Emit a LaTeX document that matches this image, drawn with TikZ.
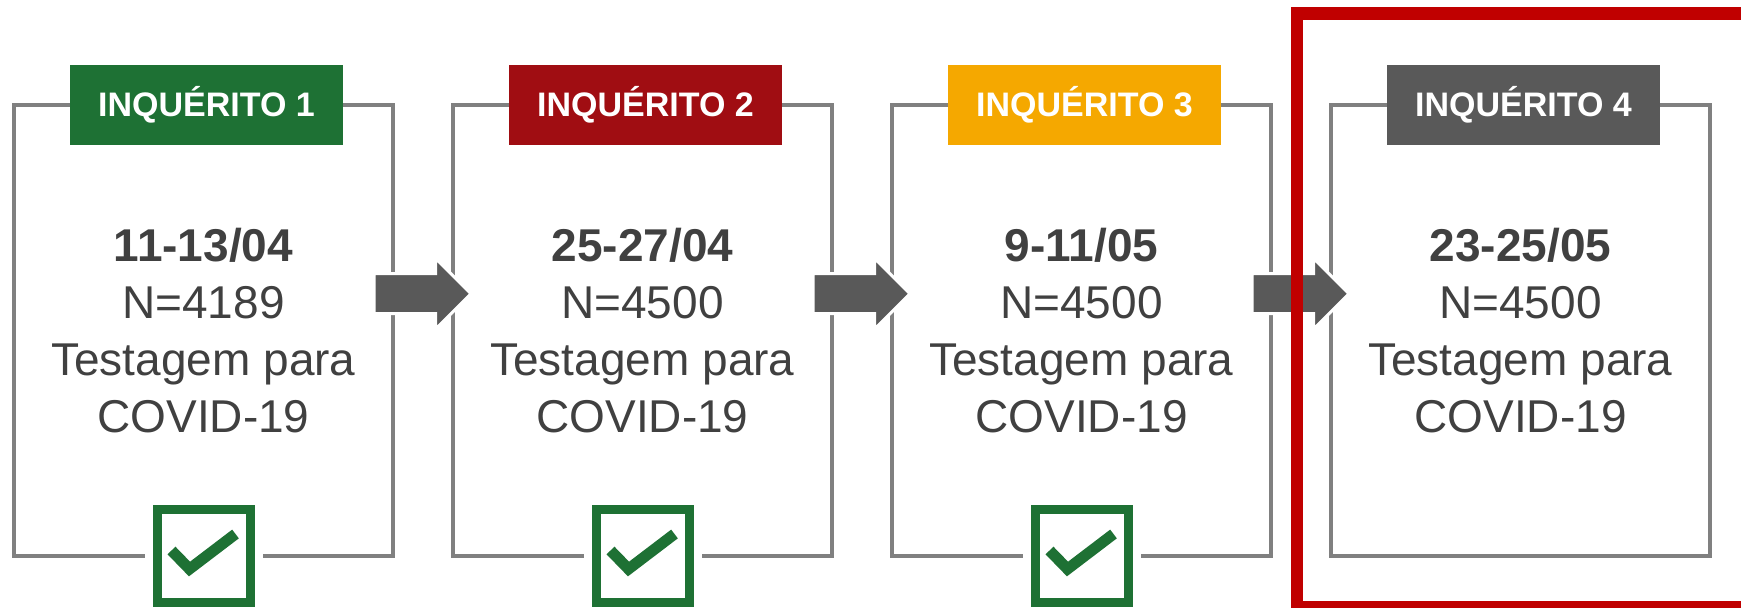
\documentclass[tikz,border=0pt]{standalone}
\usepackage{fontspec}
\setmainfont{Liberation Sans}
\usetikzlibrary{shapes.arrows, positioning, calc}

\definecolor{verde}{HTML}{1E7134}
\definecolor{vinho}{HTML}{A00D12}
\definecolor{laranja}{HTML}{F5A800}
\definecolor{cinza}{HTML}{595959}
\definecolor{linha}{HTML}{808080}
\definecolor{texto}{HTML}{404040}
\definecolor{destaque}{HTML}{C00000}

\tikzset{
  caixa/.style={draw=linha, line width=2.25pt, minimum width=189.5pt, minimum height=225.5pt,
    inner sep=0pt, outer sep=0pt, align=center, text=texto, font=\fontsize{23}{28.4}\selectfont},
  rotulo/.style={minimum width=136.5pt, minimum height=40pt, inner sep=0pt, outer sep=0pt,
    text=white, font=\fontsize{17}{20}\selectfont\bfseries},
  marca/.style={draw=verde, fill=white, line width=4.5pt, minimum size=46.5pt, inner sep=0pt,
    outer sep=0pt, preaction={draw=white, line width=12.5pt}},
  seta/.style={single arrow, fill=cinza, draw=white, line width=1.5pt, minimum height=48.5pt,
    inner xsep=0pt, inner ysep=9.25pt, single arrow head extend=7.75pt, single arrow tip angle=90}
}

\begin{document}
\begin{tikzpicture}[x=0.5pt, y=-0.5pt]
      \useasboundingbox (0,0) rectangle (1741,608);
      \clip (0,0) rectangle (1741,608);

      % caixas dos inqueritos
      \node[caixa] (c1) at (203.5,330.5) {\textbf{11-13/04}\\N=4189\\Testagem para\\COVID-19};
      \node[caixa, right=30pt of c1] (c2) {\textbf{25-27/04}\\N=4500\\Testagem para\\COVID-19};
      \node[caixa, right=30pt of c2] (c3) {\textbf{9-11/05}\\N=4500\\Testagem para\\COVID-19};
      \node[caixa, right=30pt of c3] (c4) {\textbf{23-25/05}\\N=4500\\Testagem para\\COVID-19};

      \node[rotulo, fill=verde] (r1) at ([xshift=1.5pt]c1.north) {INQUÉRITO 1};
      \node[rotulo, fill=vinho] (r2) at ([xshift=1.5pt]c2.north) {INQUÉRITO 2};
      \node[rotulo, fill=laranja] (r3) at ([xshift=1.5pt]c3.north) {INQUÉRITO 3};
      \node[rotulo, fill=cinza] (r4) at ([xshift=1.5pt]c4.north) {INQUÉRITO 4};

      % concluidos
      \foreach \i in {1,2,3} {
        \node[marca] (k\i) at (c\i.south) {};
        \draw[verde, line width=5.5pt] ($(k\i)+(-32,-5.5)$) -- ($(k\i)+(-14,13)$) -- ($(k\i)+(32,-22)$);
      }

      % setas
      \node[seta] (s1) at ($(c1.east)!.5!(c2.west)+(-10.5,-36.75)$) {};
      \node[seta] (s2) at ($(c2.east)!.5!(c3.west)+(-10.5,-36.75)$) {};
      \node[seta] (s3) at ($(c3.east)!.5!(c4.west)+(-10.5,-36.75)$) {};

      \draw[destaque, line width=6.25pt] (1297,13.5) rectangle (1747,607);

    \end{tikzpicture}
\end{document}
